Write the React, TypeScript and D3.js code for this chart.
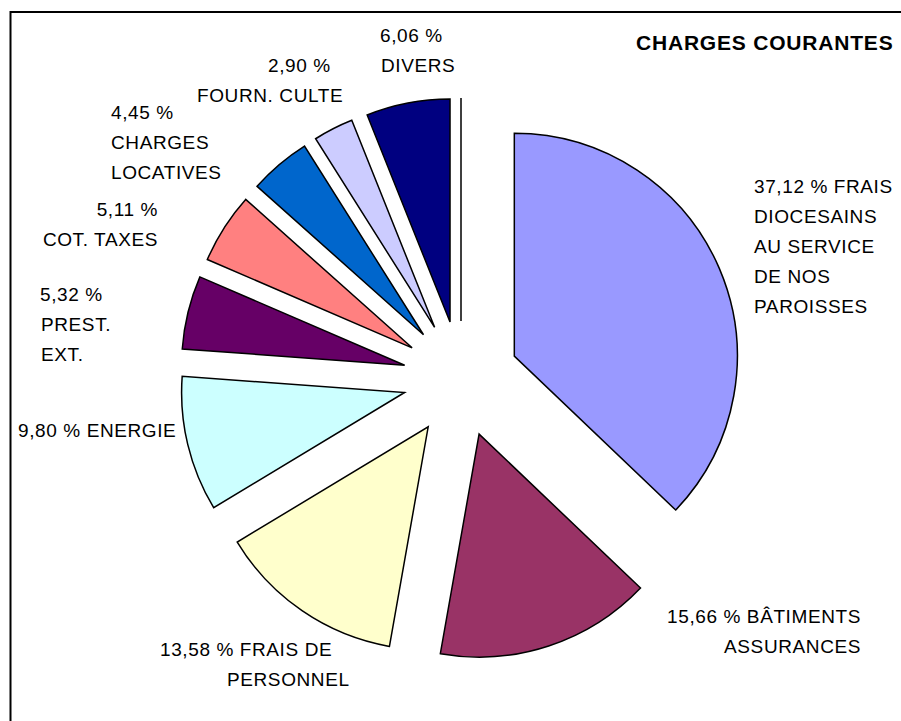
import React from "react";
import * as d3 from "d3";

// ---- data ----
const categories = [
  "FRAIS DIOCESAINS AU SERVICE DE NOS PAROISSES",
  "BÂTIMENTS ASSURANCES",
  "FRAIS DE PERSONNEL",
  "ENERGIE",
  "PREST. EXT.",
  "COT. TAXES",
  "CHARGES LOCATIVES",
  "FOURN. CULTE",
  "DIVERS",
  "",
];
const values = [37.12, 15.66, 13.58, 9.8, 5.32, 5.11, 4.45, 2.9, 6.06, 0];
const labelLines = [
  ["FRAIS", "DIOCESAINS", "AU SERVICE", "DE NOS", "PAROISSES"],
  ["BÂTIMENTS", "ASSURANCES"],
  ["FRAIS DE", "PERSONNEL"],
  ["ENERGIE"],
  ["", "PREST.", "EXT."],
  ["", "COT. TAXES"],
  ["", "CHARGES", "LOCATIVES"],
  ["", "FOURN. CULTE"],
  ["", "DIVERS"],
  [],
];
const title = "CHARGES COURANTES";

// ---- styles / layout ----
const colors = [
  "#9999FF",
  "#993366",
  "#FFFFCC",
  "#CCFFFF",
  "#660066",
  "#FF8080",
  "#0066CC",
  "#CCCCFF",
  "#000080",
  "#FFFFFF",
];
// per label: x for each line, first baseline, anchor
const labelLayout = [
  { xs: [754, 754, 754, 754, 754], y: 193, anchor: "start" },
  { xs: [861, 861], y: 623, anchor: "end" },
  { xs: [160, 227], y: 656, anchor: "start" },
  { xs: [18], y: 437, anchor: "start" },
  { xs: [40, 41, 41], y: 301, anchor: "start" },
  { xs: [158, 158], y: 216, anchor: "end" },
  { xs: [111, 111, 111], y: 119, anchor: "start" },
  { xs: [268, 197], y: 72, anchor: "start" },
  { xs: [380, 381], y: 42, anchor: "start" },
  { xs: [], y: 0, anchor: "start" },
];

const W = 901;
const H = 721;
const CX = 461;
const CY = 379;
const R = 223;
const EXPLODE = 58;
const LINE_H = 30;

const fmt = (v: number) => d3.format(".2f")(v).replace(".", ",") + " %";

export default function App() {
  const pie = d3
    .pie<number>()
    .sort(null)
    .value((d) => d)(values);
  const arc = d3.arc<d3.PieArcDatum<number>>().innerRadius(0).outerRadius(R);

  return (
    <svg
      width={W}
      height={H}
      style={{ position: "absolute", left: 0, top: 0, background: "#fff" }}
      fontFamily="'Liberation Sans', Arial, sans-serif"
    >
      <rect x={0} y={0} width={W} height={H} fill="#fff" />
      <rect
        x={10.5}
        y={12}
        width={W + 20}
        height={H + 20}
        fill="none"
        stroke="#000"
        strokeWidth={2}
      />
      <g transform={`translate(${CX},${CY})`}>
        {pie.map((p, i) => {
          const mid = (p.startAngle + p.endAngle) / 2;
          const dx = Math.sin(mid) * EXPLODE;
          const dy = -Math.cos(mid) * EXPLODE;
          return (
            <path
              key={i}
              d={arc(p) || ""}
              transform={`translate(${dx},${dy})`}
              fill={colors[i]}
              stroke="#000"
              strokeWidth={1.5}
              strokeLinejoin="miter"
            />
          );
        })}
      </g>
      {labelLines.map((lines, i) => {
        const lay = labelLayout[i];
        return lines.map((ln, j) => {
          const text =
            j === 0 ? (ln ? `${fmt(values[i])} ${ln}` : fmt(values[i])) : ln;
          return (
            <text
              key={`${i}-${j}`}
              x={lay.xs[j]}
              y={lay.y + j * LINE_H}
              textAnchor={lay.anchor}
              fontSize={19}
              letterSpacing={0.6}
              fill="#000"
            >
              {text}
            </text>
          );
        });
      })}
      <text
        x={636}
        y={50}
        fontSize={21}
        fontWeight="bold"
        letterSpacing={0.8}
        fill="#000"
      >
        {title}
      </text>
    </svg>
  );
}
